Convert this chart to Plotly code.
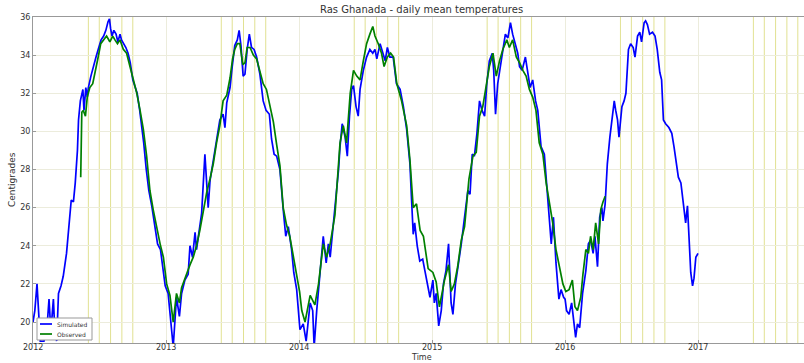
import pandas as pd
import plotly.graph_objects as go

# ---- data (day-of-year, temperature in C) ----
simulated = {
    2012: [(0, 20.0), (5, 20.6), (11, 22.0), (16, 20.6), (20, 19.0), (30, 19.0), (38, 19.6), (44, 21.2),
           (49, 19.5), (56, 21.2), (60, 19.5), (65, 19.0), (70, 21.5), (77, 21.9), (83, 22.4), (92, 23.6),
           (99, 25.2), (105, 26.4), (111, 26.3), (116, 27.3), (122, 29.0), (125, 30.6), (130, 31.6),
           (134, 32.0), (137, 32.2), (140, 31.1), (145, 32.3), (149, 31.8), (152, 32.3), (159, 32.9),
           (167, 33.4), (173, 33.9), (179, 34.3), (187, 34.8), (194, 35.0), (200, 35.3), (206, 35.75),
           (210, 35.9), (213, 35.4), (217, 35.0), (222, 35.3), (228, 35.1), (233, 34.7), (239, 35.1),
           (243, 34.8), (249, 34.6), (255, 34.4), (261, 34.1), (267, 33.6), (274, 32.7), (281, 32.3),
           (286, 32.0), (293, 31.1), (299, 30.2), (304, 29.4), (311, 28.0), (318, 26.9), (326, 26.1),
           (335, 25.0), (342, 24.1), (350, 23.8), (357, 22.6), (363, 21.9)],
    2013: [(5, 21.5), (15, 19.6), (19, 18.7), (28, 21.3), (36, 20.3), (42, 21.5), (51, 22.2), (60, 22.5),
           (65, 24.0), (72, 23.4), (79, 24.7), (83, 23.8), (91, 25.0), (97, 25.7), (106, 28.8), (115, 26.0),
           (120, 27.4), (129, 28.5), (138, 29.4), (147, 30.6), (156, 30.9), (161, 30.2), (166, 31.5),
           (175, 32.3), (181, 33.4), (188, 34.5), (195, 34.8), (200, 35.3), (205, 34.5), (211, 32.9),
           (216, 33.0), (222, 34.3), (228, 35.1), (234, 34.4), (241, 34.3), (248, 33.9), (257, 33.0),
           (266, 31.6), (274, 31.1), (283, 30.9), (289, 29.6), (296, 28.8), (303, 28.7), (312, 28.0),
           (321, 25.9), (328, 24.5), (335, 25.0), (344, 23.8), (350, 22.6), (358, 21.7)],
    2014: [(2, 19.6), (11, 19.9), (19, 19.0), (30, 21.0), (37, 20.6), (41, 18.7), (48, 20.6), (57, 22.4),
           (66, 24.5), (74, 23.1), (80, 24.1), (85, 23.4), (94, 25.2), (103, 26.6), (108, 28.0), (112, 29.2),
           (118, 30.4), (126, 29.7), (132, 28.7), (138, 30.8), (144, 32.2), (149, 32.4), (156, 31.3),
           (162, 30.8), (167, 32.2), (176, 33.2), (185, 33.9), (194, 34.3), (202, 34.1), (208, 34.3),
           (213, 33.8), (222, 34.6), (229, 34.2), (236, 33.7), (242, 34.4), (249, 33.9), (258, 33.9),
           (267, 32.5), (277, 32.2), (286, 31.3), (295, 30.1), (304, 28.3), (308, 26.6), (313, 24.6),
           (317, 25.2), (324, 24.0), (331, 23.2), (339, 23.3), (345, 22.7), (352, 22.0), (359, 21.3)],
    2015: [(2, 22.2), (6, 21.0), (11, 21.5), (18, 19.8), (25, 20.6), (31, 22.0), (38, 22.7), (45, 24.1),
           (52, 21.0), (57, 20.4), (64, 22.0), (70, 22.7), (80, 24.1), (89, 25.5), (98, 26.9), (104, 26.7),
           (110, 28.8), (116, 28.7), (123, 29.9), (130, 31.6), (137, 31.1), (144, 30.8), (150, 32.5),
           (157, 33.7), (165, 34.1), (169, 33.2), (174, 30.9), (180, 32.5), (187, 33.4), (194, 34.1),
           (201, 35.1), (208, 34.9), (215, 35.7), (221, 35.1), (229, 34.6), (235, 34.1), (240, 33.4),
           (247, 33.2), (256, 33.9), (263, 33.0), (269, 32.3), (276, 32.7), (284, 31.6), (290, 31.1),
           (299, 29.2), (308, 28.8), (315, 26.9), (320, 25.9), (327, 24.1), (333, 25.5), (340, 23.1),
           (348, 21.2), (354, 21.7), (361, 21.3)],
    2016: [(0, 21.2), (4, 20.6), (11, 20.4), (18, 21.0), (25, 19.9), (29, 19.2), (34, 19.9), (40, 19.7),
           (48, 21.5), (57, 22.7), (64, 24.1), (70, 24.3), (77, 23.6), (82, 24.5), (89, 22.9), (95, 25.5),
           (101, 26.0), (104, 25.3), (110, 26.2), (116, 28.3), (123, 29.7), (128, 30.6), (135, 31.6),
           (139, 31.1), (144, 30.6), (148, 29.7), (156, 31.3), (162, 31.6), (167, 32.0), (174, 34.3),
           (180, 34.6), (187, 34.4), (192, 33.9), (199, 35.0), (205, 35.2), (210, 34.7), (217, 35.7),
           (221, 35.8), (226, 35.6), (232, 35.1), (240, 35.2), (247, 35.0), (253, 34.3), (260, 33.1),
           (265, 32.7), (270, 30.6), (276, 30.4), (285, 30.2), (293, 29.9), (299, 29.2), (306, 28.3),
           (311, 27.6), (318, 27.3), (324, 26.4), (331, 25.2), (336, 26.1), (340, 24.8), (345, 22.6),
           (350, 21.9), (354, 22.3), (359, 23.4), (365, 23.6)],
}

observed = {
    2012: [(131, 27.6), (134, 31.0), (138, 31.1), (144, 30.8), (149, 31.8), (156, 32.3), (164, 32.5),
           (170, 33.0), (179, 33.9), (186, 34.6), (193, 34.8), (202, 35.0), (211, 34.7), (219, 35.0),
           (225, 34.8), (232, 34.6), (239, 34.8), (248, 34.3), (257, 34.1), (266, 33.4), (275, 32.7),
           (285, 32.0), (294, 31.1), (303, 30.1), (312, 28.7), (321, 26.9), (330, 25.9), (339, 25.0),
           (349, 24.1), (358, 23.4)],
    2013: [(1, 22.0), (10, 21.4), (19, 20.0), (28, 21.5), (36, 21.0), (42, 21.8), (51, 22.3), (65, 23.0),
           (74, 23.4), (83, 24.0), (92, 24.8), (102, 25.9), (111, 26.8), (120, 27.5), (129, 28.3),
           (138, 29.4), (147, 30.3), (156, 31.6), (166, 31.9), (175, 32.8), (182, 33.8), (188, 34.3),
           (195, 34.6), (202, 34.6), (210, 33.5), (216, 33.6), (222, 34.4), (230, 34.4), (239, 34.0),
           (248, 33.8), (257, 33.2), (266, 32.5), (275, 32.2), (285, 31.3), (294, 30.5), (303, 29.3),
           (312, 28.2), (321, 26.0), (330, 25.1), (339, 24.5), (349, 23.5), (358, 22.5)],
    2014: [(1, 21.6), (7, 20.6), (16, 20.0), (30, 21.4), (43, 20.9), (53, 22.0), (66, 24.1), (75, 23.4),
           (85, 24.1), (98, 25.6), (112, 29.4), (121, 30.3), (130, 29.4), (140, 32.0), (149, 33.2),
           (158, 32.9), (167, 32.7), (176, 33.7), (185, 34.6), (194, 35.1), (202, 35.5), (208, 35.0),
           (217, 34.6), (226, 34.1), (233, 33.4), (242, 33.9), (251, 34.1), (259, 33.9), (268, 32.5),
           (281, 31.6), (295, 30.3), (304, 28.5), (313, 26.0), (322, 26.2), (332, 24.8), (341, 24.5),
           (354, 22.8)],
    2015: [(2, 22.6), (11, 22.1), (20, 20.8), (34, 22.2), (45, 23.0), (52, 21.6), (61, 22.0), (70, 22.9),
           (80, 24.3), (89, 25.0), (101, 27.5), (112, 28.7), (121, 28.9), (130, 30.8), (139, 31.3),
           (148, 32.3), (157, 33.4), (167, 34.1), (176, 32.9), (185, 33.7), (194, 34.3), (205, 34.8),
           (212, 34.4), (221, 34.8), (231, 33.9), (240, 33.6), (249, 33.2), (258, 32.9), (267, 32.2),
           (276, 31.8), (285, 31.1), (294, 29.4), (304, 28.8), (313, 27.3), (322, 26.2), (331, 25.2),
           (340, 23.8), (349, 22.9), (359, 22.0)],
    2016: [(2, 21.6), (11, 21.7), (20, 22.2), (27, 20.8), (34, 20.6), (43, 21.3), (49, 22.5), (57, 23.8),
           (64, 23.6), (70, 24.5), (77, 23.8), (84, 25.2), (92, 24.1), (98, 25.9), (104, 26.3), (110, 26.6)],
}

marker_years = [2012, 2013, 2014, 2015, 2016, 2017]
marker_months = [6, 7, 8, 9, 10]
x_tick_years = [2012, 2013, 2014, 2015, 2016, 2017]
y_ticks = [20, 22, 24, 26, 28, 30, 32, 34, 36]

TITLE = "Ras Ghanada - daily mean temperatures"
X_TITLE = "Time"
Y_TITLE = "Centigrades"
SERIES_NAMES = ["Simulated", "Observed"]
SERIES_COLORS = ["#0000ff", "#008000"]

# plot-area geometry in pixels
W, H = 804, 363
L, T, B = 33, 17, 20
PW, PH = W - L, H - T - B


def px_x(p):
    return (p - L) / PW


def px_y(p):
    return (H - B - p) / PH


def to_series(d):
    xs, ys = [], []
    for year, pts in d.items():
        base = pd.Timestamp(f"{year}-01-01")
        for doy, v in pts:
            xs.append(base + pd.Timedelta(days=doy))
            ys.append(v)
    return xs, ys


sx, sy = to_series(simulated)
ox, oy = to_series(observed)

fig = go.Figure()
fig.add_trace(go.Scatter(x=sx, y=sy, mode="lines", name=SERIES_NAMES[0],
                         line=dict(color=SERIES_COLORS[0], width=1.7)))
fig.add_trace(go.Scatter(x=ox, y=oy, mode="lines", name=SERIES_NAMES[1],
                         line=dict(color=SERIES_COLORS[1], width=1.7)))

shapes = []
for yr in marker_years:
    for m in marker_months:
        d = pd.Timestamp(year=yr, month=m, day=1)
        shapes.append(dict(type="line", xref="x", yref="paper", x0=d, x1=d, y0=0, y1=1,
                           line=dict(color="rgba(215,215,110,0.75)", width=1), layer="below"))

# custom compact legend (matplotlib style)
shapes.append(dict(type="rect", xref="paper", yref="paper",
                   x0=px_x(37), x1=px_x(92), y0=px_y(340), y1=px_y(318),
                   line=dict(color="#999999", width=1), fillcolor="white", layer="above"))
annotations = []
for i, (name, col) in enumerate(zip(SERIES_NAMES, SERIES_COLORS)):
    yy = px_y(324 + 10 * i)
    shapes.append(dict(type="line", xref="paper", yref="paper",
                       x0=px_x(40), x1=px_x(52), y0=yy, y1=yy,
                       line=dict(color=col, width=1.7), layer="above"))
    annotations.append(dict(xref="paper", yref="paper", x=px_x(56), y=yy, text=name,
                            showarrow=False, xanchor="left", yanchor="middle", borderpad=0,
                            font=dict(size=6, color="#333333")))

# x tick labels / titles placed like the reference
for yr in x_tick_years:
    annotations.append(dict(xref="x", yref="paper", x=pd.Timestamp(f"{yr}-01-01"), y=px_y(348),
                            text=str(yr), showarrow=False, xanchor="center", yanchor="middle",
                            borderpad=0, font=dict(size=8, color="#333333")))
annotations.append(dict(xref="paper", yref="paper", x=px_x(421), y=px_y(357.5), text=X_TITLE,
                        showarrow=False, xanchor="center", yanchor="middle", borderpad=0,
                        font=dict(size=8, color="#333333")))
annotations.append(dict(xref="paper", yref="paper", x=px_x(12), y=px_y(180), text=Y_TITLE,
                        showarrow=False, xanchor="center", yanchor="middle", textangle=-90,
                        font=dict(size=9, color="#333333")))
annotations.append(dict(xref="paper", yref="paper", x=px_x(421), y=px_y(10), text=TITLE,
                        showarrow=False, xanchor="center", yanchor="middle", borderpad=0,
                        font=dict(size=10, color="#333333")))

fig.update_layout(
    width=W, height=H,
    margin=dict(l=L, r=0, t=T, b=B),
    paper_bgcolor="white", plot_bgcolor="white",
    shapes=shapes, annotations=annotations,
    font=dict(family="DejaVu Sans", size=9, color="#333333"),
    showlegend=False,
)

fig.update_xaxes(
    type="date",
    range=[pd.Timestamp("2012-01-01"), pd.Timestamp("2017-10-18")],
    dtick="M12", tick0="2012-01-01", showticklabels=False,
    showgrid=True, gridcolor="#ececdc", gridwidth=1,
    showline=True, linecolor="#999999", linewidth=1, mirror=True,
    ticks="inside", ticklen=3, tickcolor="#999999",
    zeroline=False,
)
fig.update_yaxes(
    range=[18.9, 36], tickvals=y_ticks,
    showgrid=True, gridcolor="#ececdc", gridwidth=1,
    showline=True, linecolor="#999999", linewidth=1, mirror=True,
    ticks="inside", ticklen=3, tickcolor="#999999",
    tickfont=dict(size=8, color="#333333"),
    zeroline=False,
)

# remove the browser's default 8px page margin so the figure sits at (0, 0)
fig.write_html("out.html", config={"displayModeBar": False},
               post_script="document.body.style.margin='0px';document.body.style.overflow='hidden';")
